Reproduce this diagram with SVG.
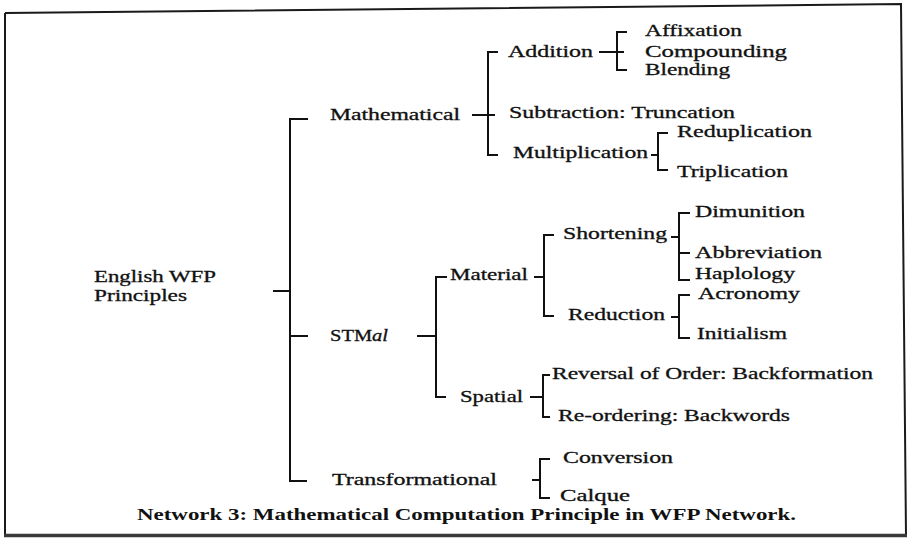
<svg xmlns="http://www.w3.org/2000/svg" width="910" height="538" viewBox="0 0 910 538">
  <style>
    .lbl { font-family: "Liberation Serif", "DejaVu Serif", serif; font-size: 16px; fill: #111; stroke: #111; stroke-width: 0.3; }
    .cap { font-family: "Liberation Serif", "DejaVu Serif", serif; font-size: 17px; font-weight: bold; fill: #111; }
    .wire { stroke: #111; stroke-width: 2; fill: none; stroke-linecap: square; }
    .frame { stroke: #1a1a1a; stroke-width: 2; fill: none; }
  </style>
  <rect x="0" y="0" width="910" height="538" fill="#ffffff"/>

  <!-- outer frame -->
  <g id="frame">
    <path class="frame" d="M5,13 L901,4 L906,536"/>
    <path class="frame" d="M5,13 L5,536"/>
    <path d="M4,535.5 L907,535.5" stroke="#3a3a3a" stroke-width="3.5" fill="none"/>
  </g>

  <!-- connectors -->
  <g id="connectors" class="wire">
    <!-- root bracket -->
    <path d="M274,291 H290 M290,119 V481 M290,119 H307 M290,336 H307 M290,481 H306"/>
    <!-- Mathematical -->
    <path d="M473,115 H494 M488,52 V155 M488,52 H497 M488,155 H497"/>
    <!-- Addition -->
    <path d="M600,52 H623 M617,32 V70 M617,32 H626 M617,70 H626"/>
    <!-- Multiplication -->
    <path d="M652,155 H658 M658,133 V170 M658,133 H667 M658,170 H667"/>
    <!-- STMal -->
    <path d="M418,336 H436 M436,277 V397 M436,277 H446 M436,397 H445"/>
    <!-- Material -->
    <path d="M535,277 H544 M544,235 V316 M544,235 H553 M544,316 H553"/>
    <!-- Shortening -->
    <path d="M672,237 H679 M679,213 V280 M679,213 H689 M679,253 H689 M679,280 H689"/>
    <!-- Reduction -->
    <path d="M672,317 H679 M679,295 V338 M679,295 H689 M679,338 H689"/>
    <!-- Spatial -->
    <path d="M531,397 H543 M543,375 V417 M543,375 H549 M543,417 H549"/>
    <!-- Transformational -->
    <path d="M533,480 H540 M540,459 V498 M540,459 H549 M540,498 H549"/>
  </g>

  <!-- nodes -->
  <g id="n-root">
    <text class="lbl" x="94" y="282" textLength="122" lengthAdjust="spacingAndGlyphs">English WFP</text>
    <text class="lbl" x="94" y="301" textLength="93" lengthAdjust="spacingAndGlyphs">Principles</text>
  </g>
  <g id="n-mathematical"><text class="lbl" x="330" y="120" textLength="130" lengthAdjust="spacingAndGlyphs">Mathematical</text></g>
  <g id="n-addition"><text class="lbl" x="508" y="57" textLength="85" lengthAdjust="spacingAndGlyphs">Addition</text></g>
  <g id="n-affixation"><text class="lbl" x="645" y="36" textLength="97" lengthAdjust="spacingAndGlyphs">Affixation</text></g>
  <g id="n-compounding"><text class="lbl" x="645" y="57" textLength="142" lengthAdjust="spacingAndGlyphs">Compounding</text></g>
  <g id="n-blending"><text class="lbl" x="645" y="75" textLength="85" lengthAdjust="spacingAndGlyphs">Blending</text></g>
  <g id="n-subtraction"><text class="lbl" x="509" y="118" textLength="226" lengthAdjust="spacingAndGlyphs">Subtraction: Truncation</text></g>
  <g id="n-multiplication"><text class="lbl" x="513" y="158" textLength="135" lengthAdjust="spacingAndGlyphs">Multiplication</text></g>
  <g id="n-reduplication"><text class="lbl" x="677" y="137" textLength="135" lengthAdjust="spacingAndGlyphs">Reduplication</text></g>
  <g id="n-triplication"><text class="lbl" x="677" y="177" textLength="111" lengthAdjust="spacingAndGlyphs">Triplication</text></g>

  <g id="n-stmal"><text class="lbl" x="330" y="341" textLength="58" lengthAdjust="spacingAndGlyphs">STM<tspan font-style="italic">al</tspan></text></g>
  <g id="n-material"><text class="lbl" x="450" y="280" textLength="78" lengthAdjust="spacingAndGlyphs">Material</text></g>
  <g id="n-shortening"><text class="lbl" x="563" y="239" textLength="104" lengthAdjust="spacingAndGlyphs">Shortening</text></g>
  <g id="n-dimunition"><text class="lbl" x="695" y="217" textLength="110" lengthAdjust="spacingAndGlyphs">Dimunition</text></g>
  <g id="n-abbreviation"><text class="lbl" x="695" y="258" textLength="127" lengthAdjust="spacingAndGlyphs">Abbreviation</text></g>
  <g id="n-haplology"><text class="lbl" x="695" y="279" textLength="100" lengthAdjust="spacingAndGlyphs">Haplology</text></g>
  <g id="n-reduction"><text class="lbl" x="568" y="320" textLength="97" lengthAdjust="spacingAndGlyphs">Reduction</text></g>
  <g id="n-acronomy"><text class="lbl" x="698" y="299" textLength="102" lengthAdjust="spacingAndGlyphs">Acronomy</text></g>
  <g id="n-initialism"><text class="lbl" x="697" y="339" textLength="90" lengthAdjust="spacingAndGlyphs">Initialism</text></g>
  <g id="n-spatial"><text class="lbl" x="460" y="402" textLength="63" lengthAdjust="spacingAndGlyphs">Spatial</text></g>
  <g id="n-reversal"><text class="lbl" x="552" y="379" textLength="321" lengthAdjust="spacingAndGlyphs">Reversal of Order: Backformation</text></g>
  <g id="n-reordering"><text class="lbl" x="558" y="421" textLength="232" lengthAdjust="spacingAndGlyphs">Re-ordering: Backwords</text></g>

  <g id="n-transformational"><text class="lbl" x="332" y="485" textLength="165" lengthAdjust="spacingAndGlyphs">Transformational</text></g>
  <g id="n-conversion"><text class="lbl" x="563" y="463" textLength="110" lengthAdjust="spacingAndGlyphs">Conversion</text></g>
  <g id="n-calque"><text class="lbl" x="560" y="501" textLength="70" lengthAdjust="spacingAndGlyphs">Calque</text></g>

  <g id="caption"><text class="cap" x="137" y="520" textLength="659" lengthAdjust="spacingAndGlyphs">Network 3: Mathematical Computation Principle in WFP Network.</text></g>
</svg>
